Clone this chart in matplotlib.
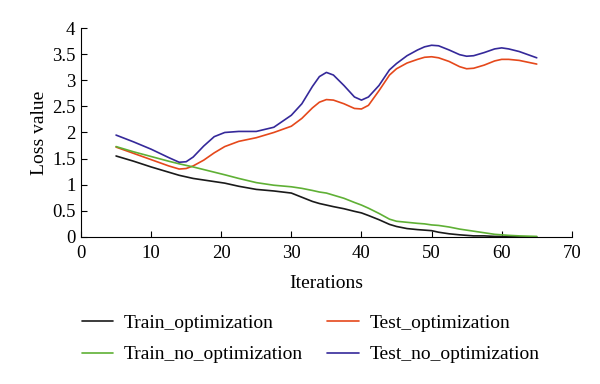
import matplotlib
matplotlib.use("Agg")
import matplotlib.pyplot as plt

iterations = [5, 7.5, 10, 12.5, 14, 15, 16, 17.5, 19, 20.5,
              22.5, 25, 27.5, 30, 31.5, 33, 34, 35, 36, 37.5,
              39, 40, 41, 42.5, 44, 45, 46.5, 48, 49, 50,
              51, 52.5, 54, 55, 56, 57.5, 59, 60, 61, 62.5,
              65]

train_opt = [1.55, 1.45, 1.34, 1.24, 1.18, 1.15, 1.12, 1.09, 1.06, 1.03,
             0.97, 0.91, 0.88, 0.84, 0.76, 0.68, 0.64, 0.61, 0.58, 0.54,
             0.49, 0.46, 0.41, 0.33, 0.24, 0.20, 0.16, 0.14, 0.13, 0.12,
             0.09, 0.06, 0.04, 0.03, 0.02, 0.02, 0.01, 0.01, 0.005, 0.0,
             0.0]
test_opt = [1.72, 1.60, 1.48, 1.36, 1.30, 1.31, 1.36, 1.47, 1.61, 1.73,
            1.83, 1.90, 2.00, 2.12, 2.27, 2.47, 2.58, 2.63, 2.62, 2.55,
            2.46, 2.45, 2.52, 2.80, 3.10, 3.22, 3.33, 3.40, 3.44, 3.45,
            3.43, 3.36, 3.26, 3.22, 3.23, 3.29, 3.37, 3.40, 3.40, 3.38,
            3.31]
train_no_opt = [1.73, 1.63, 1.54, 1.45, 1.40, 1.37, 1.34, 1.29, 1.24, 1.19,
                1.12, 1.04, 0.99, 0.96, 0.93, 0.89, 0.86, 0.84, 0.80, 0.74,
                0.66, 0.61, 0.55, 0.45, 0.34, 0.30, 0.28, 0.26, 0.25, 0.23,
                0.22, 0.19, 0.15, 0.13, 0.11, 0.08, 0.05, 0.04, 0.03, 0.02,
                0.01]
test_no_opt = [1.95, 1.82, 1.68, 1.52, 1.43, 1.44, 1.53, 1.74, 1.92, 2.00,
               2.02, 2.02, 2.10, 2.33, 2.55, 2.88, 3.07, 3.15, 3.10, 2.90,
               2.68, 2.62, 2.68, 2.90, 3.20, 3.32, 3.47, 3.58, 3.64, 3.67,
               3.66, 3.58, 3.49, 3.46, 3.47, 3.53, 3.60, 3.62, 3.60, 3.55,
               3.43]

plt.rcParams['font.family'] = ['Liberation Serif', 'DejaVu Serif']

fig = plt.figure(figsize=(6, 3.84), dpi=100)
ax = fig.add_axes([0.135, 0.383, 0.818, 0.544])

style = dict(lw=1.2, solid_joinstyle='round', solid_capstyle='round')
l1, = ax.plot(iterations, train_opt, color='#1a1a1a', **style)
l2, = ax.plot(iterations, test_opt, color='#e5481b', **style)
l3, = ax.plot(iterations, train_no_opt, color='#5fb035', **style)
l4, = ax.plot(iterations, test_no_opt, color='#35299a', **style)

ax.set_xlim(0, 70)
ax.set_ylim(0, 4)
ax.set_xticks(range(0, 71, 10))
ax.set_yticks([0, 0.5, 1, 1.5, 2, 2.5, 3, 3.5, 4])
ax.set_yticklabels(['0', '0.5', '1', '1.5', '2', '2.5', '3', '3.5', '4'])
ax.spines['top'].set_visible(False)
ax.spines['right'].set_visible(False)
ax.tick_params(direction='in', length=4, labelsize=13.5)
ax.tick_params(axis='x', pad=6)
ax.tick_params(axis='y', pad=4)
ax.set_xlabel('Iterations', fontsize=14, labelpad=9)
ax.set_ylabel('Loss value', fontsize=14, labelpad=3)

fig.legend([l1, l3, l2, l4],
           ['Train_optimization', 'Train_no_optimization', 'Test_optimization', 'Test_no_optimization'],
           ncol=2, loc='upper left', bbox_to_anchor=(0.137, 0.182), frameon=False,
           fontsize=14, handlelength=1.6, handletextpad=0.55, columnspacing=1.25,
           labelspacing=0.72, borderaxespad=0, borderpad=0)

fig.savefig('out.png', dpi=100)
